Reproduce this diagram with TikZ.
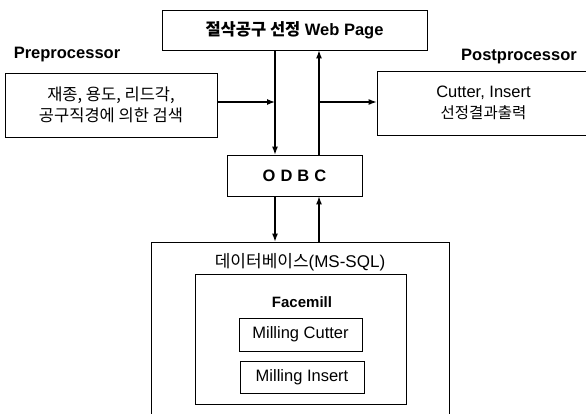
\documentclass[tikz,border=0pt]{standalone}
\usepackage{fontspec}
\setmainfont{Liberation Sans}
\newfontfamily\kr{Noto Sans CJK KR}
\usetikzlibrary{arrows.meta}

\begin{document}
\begin{tikzpicture}[x=1pt,y=-1pt,>={Latex[length=8pt,width=6pt]},
		box/.style={draw,line width=0.8pt,inner sep=0pt,align=center,font=\fontsize{16.5}{21}\selectfont},
		title/.style={font=\fontsize{16.5}{20}\selectfont\bfseries},
		link/.style={line width=1.2pt,->}]
			\useasboundingbox (0,0) rectangle (586,413);
			\coordinate (l) at (275,0);
			\coordinate (r) at (319,0);
			\coordinate (mid) at (0,102);
			\node[box,minimum width=265pt,minimum height=40pt,font=\fontsize{16.5}{20}\selectfont\bfseries] (web) at (294.5,30) {{\kr 절삭공구 선정} Web Page};
			\node[title] (pre) at (67,55) {Preprocessor};
			\node[title] (post) at (519,57) {Postprocessor};
			\node[box,minimum width=212pt,minimum height=64pt] (search) at (111,105) {{\kr 재종, 용도, 리드각,}\\{\kr 공구직경에 의한 검색}};
			\node[box,minimum width=213pt,minimum height=64pt] (out) at (483.5,103) {Cutter, Insert\\{\kr\fontsize{15.5}{21}\selectfont 선정결과출력}};
			\node[box,minimum width=135pt,minimum height=41pt,font=\fontsize{16.5}{20}\selectfont\bfseries] (odbc) at (294.5,175.5) {O\hspace{5pt}D\hspace{5pt}B\hspace{5pt}C};
			\node[box,minimum width=298pt,minimum height=183pt] (db) at (300,333.5) {};
			\node[font=\fontsize{17}{20}\selectfont] (dbtitle) at (300,262) {{\kr 데이터베이스}(MS-SQL)};
			\node[box,minimum width=211pt,minimum height=130pt] (face) at (300.5,339) {};
			\node[font=\fontsize{15}{18}\selectfont\bfseries] (facetitle) at (302,302) {Facemill};
			\node[box,minimum width=123pt,minimum height=33pt] (cutter) at (300.5,334.5) {Milling Cutter};
			\node[box,minimum width=124pt,minimum height=32pt] (insert) at (302,377) {Milling Insert};
			\draw[link] (web.south -| l) -- (odbc.north -| l);
			\draw[link] (odbc.north -| r) -- (web.south -| r);
			\draw[link] (odbc.south -| l) -- (db.north -| l);
			\draw[link] (db.north -| r) -- (odbc.south -| r);
			\draw[link] (search.east |- mid) -- (l |- mid);
			\draw[link] (r |- mid) -- (out.west |- mid);
		\end{tikzpicture}
\end{document}
